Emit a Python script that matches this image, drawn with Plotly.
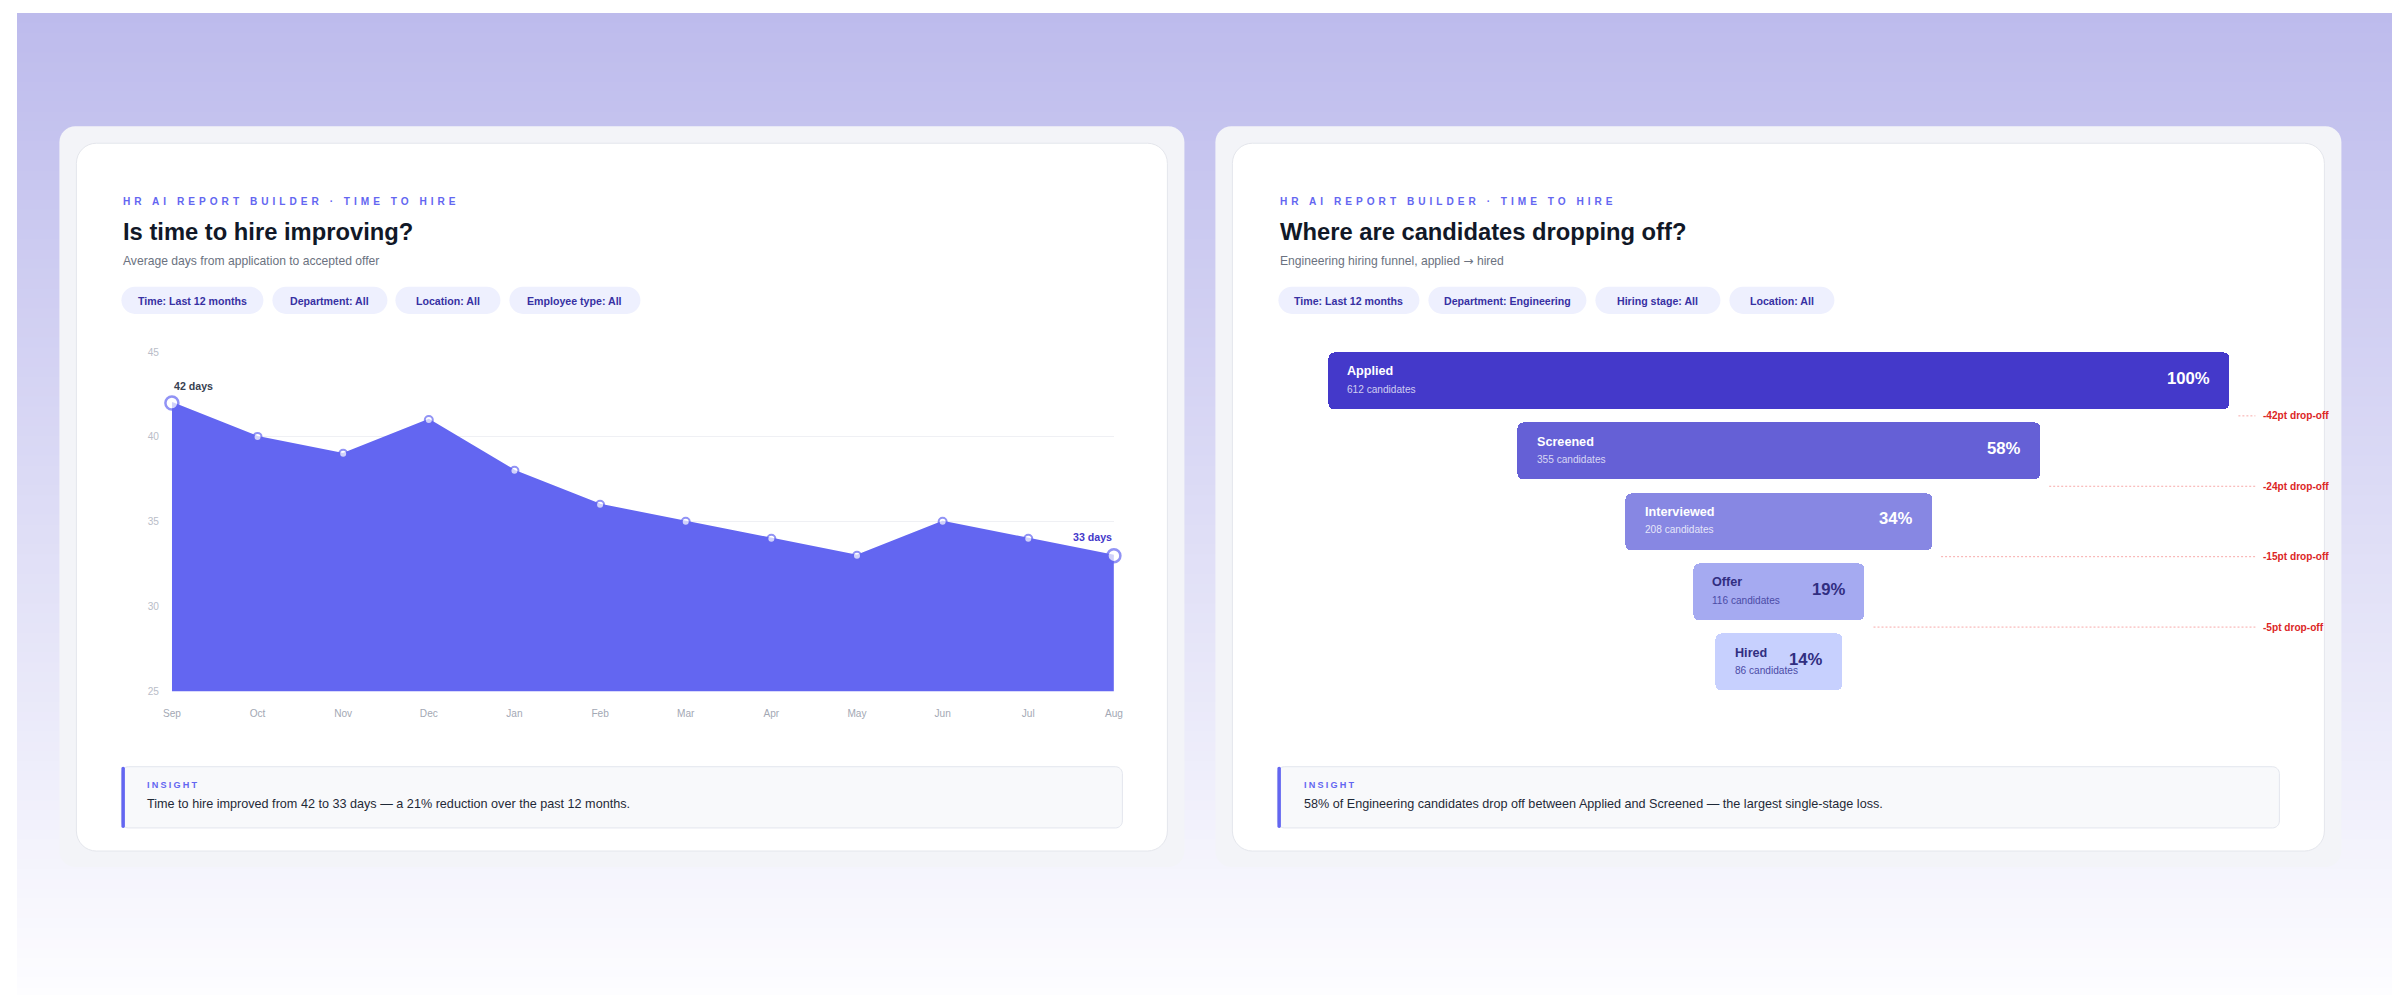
import plotly.graph_objects as go

W, H = 2400, 995
# the page shows the figure slightly inset and scaled: page = O + S * figure px
OX, OY, SX, SY = 16.6, 15.3, 0.9925, 0.985
FS = 2 / (SX + SY)

# ---------------- data ----------------
months = ["Sep", "Oct", "Nov", "Dec", "Jan", "Feb", "Mar", "Apr", "May", "Jun", "Jul", "Aug"]
days_to_hire = [42, 40, 39, 41, 38, 36, 35, 34, 33, 35, 34, 33]
y_ticks = [25, 30, 35, 40, 45]

stages = ["Applied", "Screened", "Interviewed", "Offer", "Hired"]
candidates = [612, 355, 208, 116, 86]

filters_left = ["Time: Last 12 months", "Department: All", "Location: All", "Employee type: All"]
filters_right = ["Time: Last 12 months", "Department: Engineering", "Hiring stage: All", "Location: All"]

eyebrow = "HR AI REPORT BUILDER · TIME TO HIRE"
title_left = "Is time to hire improving?"
sub_left = "Average days from application to accepted offer"
title_right = "Where are candidates dropping off?"
sub_right = 'Engineering hiring funnel, applied <span style="font-family:DejaVu Sans">→</span> hired'
insight_left = "Time to hire improved from 42 to 33 days — a 21% reduction over the past 12 months."
insight_right = "58% of Engineering candidates drop off between Applied and Screened — the largest single-stage loss."

pct = [round(c / candidates[0] * 100) for c in candidates]
drops = [pct[i] - pct[i + 1] for i in range(len(pct) - 1)]

# ---------------- styles ----------------
FONT = "Liberation Sans, Arial, Helvetica, sans-serif"
INDIGO = "#6366f1"
bar_colors = ["#4439ca", "#6560d6", "#8787e3", "#a5aaf1", "#c7d0fe"]
bar_label_colors = ["#ffffff", "#ffffff", "#ffffff", "#312e81", "#312e81"]
bar_sub_colors = ["rgba(255,255,255,0.75)", "rgba(255,255,255,0.75)", "rgba(255,255,255,0.8)", "#4b4ba6", "#4b4ba6"]

# pill extents (page px) for each card
pills_left_px = [(121, 263), (272, 387), (395, 500), (509, 640)]
pills_right_px = [(1278, 1419), (1428, 1586), (1595, 1720), (1729, 1834)]

# funnel scale: page px of the 0 mark and px per percentage point
F_X0, F_PPU = 1328, 9.01
F_ROW0, F_PITCH = 381.5, 70.125
DROP_END = (2255 - F_X0) / F_PPU


def px(x):
    return (x - OX) / SX / W


def py(y):
    return 1 - (y - OY) / SY / H


def fsz(s):
    return s * FS


def pt(x, y):
    return f"{px(x):.6f},{py(y):.6f}"


def rrect(x0, y0, x1, y1, r):
    q = r * 0.4477
    return (f"M{pt(x0 + r, y0)} L{pt(x1 - r, y0)} C{pt(x1 - q, y0)} {pt(x1, y0 + q)} {pt(x1, y0 + r)} "
            f"L{pt(x1, y1 - r)} C{pt(x1, y1 - q)} {pt(x1 - q, y1)} {pt(x1 - r, y1)} "
            f"L{pt(x0 + r, y1)} C{pt(x0 + q, y1)} {pt(x0, y1 - q)} {pt(x0, y1 - r)} "
            f"L{pt(x0, y0 + r)} C{pt(x0, y0 + q)} {pt(x0 + q, y0)} {pt(x0 + r, y0)} Z")


shapes = []


def add_path(path, fill, line=None, lw=0):
    shapes.append(dict(type="path", xref="paper", yref="paper", path=path, fillcolor=fill,
                       line=dict(color=line or "rgba(0,0,0,0)", width=lw), layer="below"))


# background gradient (colour follows page y 0 -> 995)
top_c, bot_c = (188, 186, 236), (253, 253, 255)
n = 100
for i in range(n):
    fa, fb = i * H / n, (i + 1) * H / n
    t = min(max((OY + SY * (fa + fb) / 2) / 995, 0), 1)
    c = tuple(round(a + (b - a) * t) for a, b in zip(top_c, bot_c))
    shapes.append(dict(type="rect", xref="paper", yref="paper", x0=0, x1=1,
                       y0=max(1 - (fb + 1) / H, 0), y1=1 - fa / H, fillcolor=f"rgb{c}",
                       line=dict(width=0), layer="below"))

# panels, cards, insight boxes
for (x0, x1), (c0, c1) in [((59, 1184), (76, 1167)), ((1215, 2341), (1232, 2324))]:
    add_path(rrect(x0, 128, x1, 866, 16), "#f3f4f8")
    add_path(rrect(c0, 145, c1, 850, 20), "#ffffff", "#e4e6ec", 1)
    add_path(rrect(c0 + 45, 766, c1 - 45, 827, 7), "#f8f9fb", "#e3e6ee", 1)
    add_path(rrect(c0 + 45, 766, c0 + 48.5, 827, 1.7), INDIGO)

for pills in (pills_left_px, pills_right_px):
    for x0, x1 in pills:
        add_path(rrect(x0, 288, x1, 315, 13.5), "#eef0fe")

annotations = []


def note(x, y, text, size, color, xanchor="left", **kw):
    annotations.append(dict(x=px(x), y=py(y), xref="paper", yref="paper", text=text, showarrow=False,
                            xanchor=xanchor, yanchor="middle",
                            font=dict(family=FONT, size=fsz(size), color=color), **kw))


for cx, title, sub, pills, labels, ins in [
    (121, title_left, sub_left, pills_left_px, filters_left, insight_left),
    (1278, title_right, sub_right, pills_right_px, filters_right, insight_right),
]:
    note(cx, 203, f'<b><span style="letter-spacing:4px">{eyebrow}</span></b>', 10, INDIGO)
    note(cx, 233, f"<b>{title}</b>", 23.5, "#111827")
    note(cx, 262, sub, 12, "#6b7280")
    for (x0, x1), lab in zip(pills, labels):
        note((x0 + x1) / 2, 302, f"<b>{lab}</b>", 10.5, "#3730a3", xanchor="center")
    note(cx + 24, 784.5, '<b><span style="letter-spacing:2.2px">INSIGHT</span></b>', 9, INDIGO)
    note(cx + 24, 803, ins, 12.5, "#1f2937")

fig = go.Figure()

# ---------------- time to hire area chart ----------------
fig.add_trace(go.Scatter(x=months, y=[y_ticks[0]] * len(months), mode="lines", line=dict(width=0),
                         hoverinfo="skip", showlegend=False, xaxis="x", yaxis="y"))
ends = [0, len(months) - 1]
fig.add_trace(go.Scatter(
    x=months, y=days_to_hire, mode="lines+markers", fill="tonexty", fillcolor=INDIGO,
    line=dict(color=INDIGO, width=2),
    marker=dict(size=[13 if i in ends else 8 for i in range(len(months))], color="#ffffff",
                line=dict(color=INDIGO, width=[2.5 if i in ends else 2 for i in range(len(months))])),
    cliponaxis=False, showlegend=False, xaxis="x", yaxis="y"))

annotations.append(dict(x=0, y=days_to_hire[0], xref="x", yref="y", text=f"<b>{days_to_hire[0]} days</b>",
                        showarrow=False, xanchor="left", yshift=17,
                        font=dict(family=FONT, size=fsz(10.5), color="#374151")))
annotations.append(dict(x=len(months) - 1, y=days_to_hire[-1], xref="x", yref="y",
                        text=f"<b>{days_to_hire[-1]} days</b>", showarrow=False, xanchor="right", yshift=19,
                        font=dict(family=FONT, size=fsz(10.5), color="#4338ca")))

# ---------------- funnel ----------------
bases = [(100 - p) / 2 for p in pct]
fig.add_trace(go.Bar(y=list(range(len(stages))), x=pct, base=bases, orientation="h", width=0.81,
                     marker=dict(color=bar_colors, cornerradius=6, line=dict(width=0)),
                     hoverinfo="skip", showlegend=False, xaxis="x2", yaxis="y2"))

dx, dy = [], []
for i, d in enumerate(drops):
    dx += [bases[i] + pct[i] + 9 / F_PPU, DROP_END, None]
    dy += [i + 0.5, i + 0.5, None]
    annotations.append(dict(x=DROP_END, y=i + 0.5, xref="x2", yref="y2", text=f"<b>-{d}pt drop-off</b>",
                            showarrow=False, xanchor="left", xshift=6,
                            font=dict(family=FONT, size=fsz(10), color="#dc2626")))
fig.add_trace(go.Scatter(x=dx, y=dy, mode="lines", line=dict(color="#f7aaaa", width=1, dash="2px,2px"),
                         hoverinfo="skip", showlegend=False, xaxis="x2", yaxis="y2"))

for i, s in enumerate(stages):
    annotations.append(dict(x=bases[i], y=i, xref="x2", yref="y2", text=f"<b>{s}</b>", showarrow=False,
                            xanchor="left", xshift=17, yshift=9.5,
                            font=dict(family=FONT, size=fsz(12.5), color=bar_label_colors[i])))
    annotations.append(dict(x=bases[i], y=i, xref="x2", yref="y2", text=f"{candidates[i]} candidates",
                            showarrow=False, xanchor="left", xshift=17, yshift=-8.5,
                            font=dict(family=FONT, size=fsz(10), color=bar_sub_colors[i])))
    annotations.append(dict(x=bases[i] + pct[i], y=i, xref="x2", yref="y2", text=f"<b>{pct[i]}%</b>",
                            showarrow=False, xanchor="right", xshift=-17, yshift=2.5,
                            font=dict(family=FONT, size=fsz(16.5), color=bar_label_colors[i])))

fig.update_layout(
    width=W, height=H, margin=dict(l=0, r=0, t=0, b=0),
    paper_bgcolor="#ffffff", plot_bgcolor="rgba(0,0,0,0)",
    shapes=shapes, annotations=annotations, showlegend=False, bargap=0,
    font=dict(family=FONT),
    xaxis=dict(domain=[px(171.5), px(1113.5)], range=[0, len(months) - 1], type="category",
               showgrid=False, zeroline=False, showline=False, ticks="", ticklabelstandoff=14,
               tickfont=dict(family=FONT, size=fsz(10), color="#a3a8b4"), fixedrange=True),
    yaxis=dict(domain=[py(691), py(353)], range=[y_ticks[0], y_ticks[-1]], tickvals=y_ticks,
               showgrid=True, gridcolor="#eff0f4", gridwidth=1, zeroline=False, showline=False, ticks="",
               ticklabelstandoff=12, tickfont=dict(family=FONT, size=fsz(10), color="#b9bdc8"), fixedrange=True),
    xaxis2=dict(domain=[px(1240), px(2320)], range=[(1240 - F_X0) / F_PPU, (2320 - F_X0) / F_PPU],
                visible=False, fixedrange=True),
    yaxis2=dict(domain=[py(F_ROW0 + 4.5 * F_PITCH), py(F_ROW0 - 0.5 * F_PITCH)],
                range=[len(stages) - 0.5, -0.5], visible=False, fixedrange=True),
)

fig.write_html("out.html", config={"displayModeBar": False})
